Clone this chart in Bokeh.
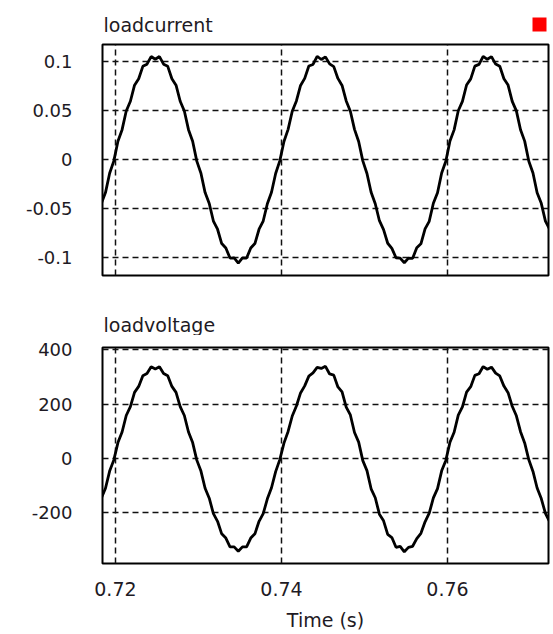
from bokeh.plotting import figure
from bokeh.layouts import column
from bokeh.models import Range1d, FixedTicker
from bokeh.core.properties import value
from bokeh.embed import file_html
from bokeh.resources import INLINE

time_s = [
    0.7183, 0.7188, 0.7193, 0.7198, 0.7203, 0.7208, 0.7213, 0.7218, 0.7223, 0.7228,
    0.7233, 0.7238, 0.7243, 0.7248, 0.7253, 0.7258, 0.7263, 0.7268, 0.7273, 0.7278,
    0.7283, 0.7288, 0.7293, 0.7298, 0.7303, 0.7308, 0.7313, 0.7318, 0.7323, 0.7328,
    0.7333, 0.7338, 0.7343, 0.7348, 0.7353, 0.7358, 0.7363, 0.7368, 0.7373, 0.7378,
    0.7383, 0.7388, 0.7393, 0.7398, 0.7403, 0.7408, 0.7413, 0.7418, 0.7423, 0.7428,
    0.7433, 0.7438, 0.7443, 0.7448, 0.7453, 0.7458, 0.7463, 0.7468, 0.7473, 0.7478,
    0.7483, 0.7488, 0.7493, 0.7498, 0.7503, 0.7508, 0.7513, 0.7518, 0.7523, 0.7528,
    0.7533, 0.7538, 0.7543, 0.7548, 0.7553, 0.7558, 0.7563, 0.7568, 0.7573, 0.7578,
    0.7583, 0.7588, 0.7593, 0.7598, 0.7603, 0.7608, 0.7613, 0.7618, 0.7623, 0.7628,
    0.7633, 0.7638, 0.7643, 0.7648, 0.7653, 0.7658, 0.7663, 0.7668, 0.7673, 0.7678,
    0.7683, 0.7688, 0.7693, 0.7698, 0.7703, 0.7708, 0.7713, 0.7718, 0.7723,
]

load_current = [
    -0.0452, -0.0341, -0.0143, -0.0020, 0.0183, 0.0301, 0.0492, 0.0591, 0.0755, 0.0821,
    0.0947, 0.0969, 0.1047, 0.1020, 0.1047, 0.0969, 0.0947, 0.0821, 0.0755, 0.0591,
    0.0492, 0.0301, 0.0183, -0.0020, -0.0143, -0.0341, -0.0452, -0.0631, -0.0715, -0.0861,
    -0.0907, -0.1009, -0.1007, -0.1060, -0.1007, -0.1009, -0.0907, -0.0861, -0.0715, -0.0631,
    -0.0455, -0.0338, -0.0146, -0.0017, 0.0180, 0.0304, 0.0489, 0.0594, 0.0752, 0.0824,
    0.0950, 0.0966, 0.1050, 0.1017, 0.1044, 0.0972, 0.0944, 0.0824, 0.0752, 0.0594,
    0.0489, 0.0304, 0.0180, -0.0017, -0.0146, -0.0338, -0.0455, -0.0628, -0.0718, -0.0858,
    -0.0910, -0.1006, -0.1010, -0.1057, -0.1010, -0.1012, -0.0904, -0.0864, -0.0712, -0.0634,
    -0.0450, -0.0343, -0.0141, -0.0022, 0.0185, 0.0299, 0.0494, 0.0589, 0.0757, 0.0819,
    0.0949, 0.0967, 0.1048, 0.1019, 0.1046, 0.0970, 0.0948, 0.0820, 0.0756, 0.0590,
    0.0493, 0.0300, 0.0184, -0.0021, -0.0142, -0.0342, -0.0451, -0.0632, -0.0714,
]

load_voltage = [
    -146.1, -109.5, -46.4, -6.0, 58.4, 97.5, 158.1, 190.9, 242.9, 265.0,
    304.5, 312.6, 336.9, 329.0, 336.9, 312.6, 304.5, 265.0, 242.9, 190.9,
    158.1, 97.5, 58.4, -6.0, -46.4, -109.5, -146.1, -202.9, -230.9, -277.0,
    -292.5, -324.6, -324.9, -341.0, -324.9, -324.6, -292.5, -277.0, -230.9, -202.9,
    -148.0, -107.6, -48.3, -4.1, 56.5, 99.4, 156.2, 192.8, 241.0, 266.9,
    302.6, 314.5, 335.0, 330.9, 338.8, 310.7, 306.4, 263.1, 244.8, 189.0,
    160.0, 95.6, 60.3, -7.9, -44.5, -111.4, -144.2, -204.8, -229.0, -278.9,
    -290.6, -326.5, -323.0, -342.9, -326.8, -322.7, -294.4, -275.1, -232.8, -201.0,
    -145.0, -110.6, -45.3, -7.1, 59.5, 96.4, 159.2, 189.8, 244.0, 263.9,
    305.6, 311.5, 338.0, 327.9, 335.8, 313.7, 303.4, 266.1, 241.8, 192.0,
    157.0, 98.6, 57.3, -4.9, -47.5, -108.4, -147.2, -201.8, -232.0,
]

x_ticks = [0.72, 0.74, 0.76]
x_tick_labels = ["0.72", "0.74", "0.76"]
current_ticks = [-0.1, -0.05, 0, 0.05, 0.1]
current_tick_labels = ["-0.1", "-0.05", "0", "0.05", "0.1"]
voltage_ticks = [-200, 0, 200, 400]
voltage_tick_labels = ["-200", "0", "200", "400"]
panel_titles = ["loadcurrent", "loadvoltage"]

FONT = "DejaVu Sans"
TXT = "#1e1a24"
W = 553
LEFT = 102
RIGHT = 5


def header(h, title, baseline_from_top, square=False):
    # header strip whose frame is aligned with the panel frames (x in page pixels)
    f = figure(width=W, height=h, x_range=Range1d(LEFT, W - RIGHT), y_range=Range1d(0, h),
               output_backend="svg", toolbar_location=None,
               min_border_left=LEFT, min_border_right=RIGHT, min_border_top=0, min_border_bottom=0)
    f.axis.visible = False
    f.grid.visible = False
    f.outline_line_color = None
    f.background_fill_color = "white"
    f.border_fill_color = "white"
    f.text(x=[LEFT + 1], y=[h - baseline_from_top], text=[title], text_font=value(FONT),
           text_font_size="19px", text_color=TXT, text_baseline="alphabetic",
           text_align="left")
    if square:
        f.rect(x=[539], y=[h - 24], width=14, height=14,
               fill_color="#ff0000", line_color=None)
    return f


def style(p, yticks, ylabels):
    p.outline_line_color = "black"
    p.outline_line_width = 2
    p.background_fill_color = "white"
    p.border_fill_color = "white"
    p.xgrid.ticker = FixedTicker(ticks=x_ticks)
    p.ygrid.ticker = FixedTicker(ticks=yticks)
    for g in (p.xgrid, p.ygrid):
        g.grid_line_color = "#111111"
        g.grid_line_width = 1.5
        g.grid_line_dash = "6 4"
        g.grid_line_alpha = 1.0
    ya = p.yaxis[0]
    ya.ticker = FixedTicker(ticks=yticks)
    ya.major_label_overrides = {t: l for t, l in zip(yticks, ylabels)}
    ya.axis_line_color = None
    ya.major_tick_line_color = None
    ya.minor_tick_line_color = None
    ya.major_tick_out = 0
    ya.major_tick_in = 0
    ya.major_label_standoff = 30
    ya.major_label_text_font = FONT
    ya.major_label_text_font_size = "18px"
    ya.major_label_text_color = TXT


xr = Range1d(0.71844, 0.77217)

# page rows: header1 0-36, panel1 36-285 (frame 44-275), header2 285-335, panel2 335-634 (frame 347-563)
h1 = header(36, panel_titles[0], 24, square=True)

p1 = figure(width=W, height=249, x_range=xr, y_range=Range1d(-0.1187, 0.117),
            output_backend="svg", toolbar_location=None,
            min_border_left=LEFT, min_border_right=RIGHT, min_border_top=8, min_border_bottom=10)
style(p1, current_ticks, current_tick_labels)
p1.xaxis.visible = False
p1.line(time_s, load_current, line_color="black", line_width=2.8)

h2 = header(50, panel_titles[1], 39)

p2 = figure(width=W, height=299, x_range=xr, y_range=Range1d(-386, 408),
            output_backend="svg", toolbar_location=None,
            min_border_left=LEFT, min_border_right=RIGHT, min_border_top=12, min_border_bottom=71)
style(p2, voltage_ticks, voltage_tick_labels)
xa = p2.xaxis[0]
xa.ticker = FixedTicker(ticks=x_ticks)
xa.major_label_overrides = {t: l for t, l in zip(x_ticks, x_tick_labels)}
xa.axis_line_color = None
xa.major_tick_line_color = None
xa.minor_tick_line_color = None
xa.major_tick_out = 0
xa.major_tick_in = 0
xa.major_label_standoff = 18
xa.major_label_text_font = FONT
xa.major_label_text_font_size = "19px"
xa.major_label_text_color = TXT
xa.axis_label = "Time (s)"
xa.axis_label_standoff = 10
xa.axis_label_text_font = FONT
xa.axis_label_text_font_size = "19px"
xa.axis_label_text_font_style = "normal"
xa.axis_label_text_color = TXT
p2.line(time_s, load_voltage, line_color="black", line_width=2.8)

layout = column(h1, p1, h2, p2, spacing=0)
open("out.html", "w").write(file_html(layout, INLINE))
